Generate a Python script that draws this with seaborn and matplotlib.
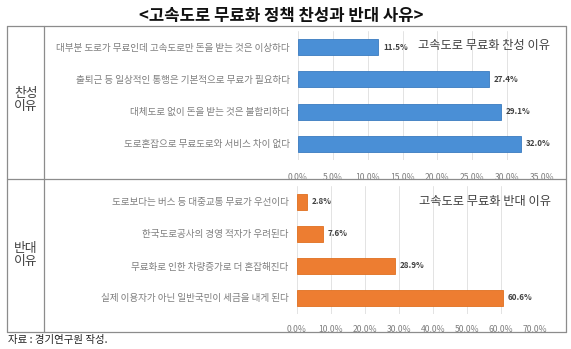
import matplotlib
matplotlib.use("Agg")
import matplotlib.pyplot as plt
import seaborn as sns
import pandas as pd
from matplotlib.lines import Line2D

sns.set_theme(style="white")
plt.rcParams['font.family'] = ['Noto Sans CJK KR', 'DejaVu Sans']

title = "<고속도로 무료화 정책 찬성과 반대 사유>"
source = "자료 : 경기연구원 작성."

pro_title = "고속도로 무료화 찬성 이유"
pro_section = "찬성\n이유"
pro_reasons = [
    "대부분 도로가 무료인데 고속도로만 돈을 받는 것은 이상하다",
    "출퇴근 등 일상적인 통행은 기본적으로 무료가 필요하다",
    "대체도로 없이 돈을 받는 것은 불합리하다",
    "도로혼잡으로 무료도로와 서비스 차이 없다",
]
pro_values = [11.5, 27.4, 29.1, 32.0]
pro_ticks = [0, 5, 10, 15, 20, 25, 30, 35]

con_title = "고속도로 무료화 반대 이유"
con_section = "반대\n이유"
con_reasons = [
    "도로보다는 버스 등 대중교통 무료가 우선이다",
    "한국도로공사의 경영 적자가 우려된다",
    "무료화로 인한 차량증가로 더 혼잡해진다",
    "실제 이용자가 아닌 일반국민이 세금을 내게 된다",
]
con_values = [2.8, 7.6, 28.9, 60.6]
con_ticks = [0, 10, 20, 30, 40, 50, 60, 70]

W, H = 571, 349
fig = plt.figure(figsize=(W / 100, H / 100), dpi=100)


def fx(px):
    return px / W


def fy(py):
    return 1 - py / H


def panel(rect, reasons, values, ticks, color, edge, tick_pad):
    ax = fig.add_axes(rect)
    df = pd.DataFrame({"reason": reasons, "value": values})
    sns.barplot(data=df, y="reason", x="value", orient="h", ax=ax,
                color=color, width=0.5, edgecolor=edge, linewidth=0.6,
                saturation=1)
    ax.set_xlim(ticks[0], ticks[-1])
    ax.set_ylim(len(reasons) - 0.5, -0.5)
    ax.set_xticks(ticks)
    ax.set_xticklabels([f"{t:.1f}%" for t in ticks], fontsize=6.2,
                       color="#7F7F7F")
    ax.tick_params(axis="x", length=0, pad=tick_pad)
    ax.tick_params(axis="y", length=0, pad=6, labelsize=6.9,
                   labelcolor="#7F7F7F")
    ax.set_xlabel("")
    ax.set_ylabel("")
    for s in ax.spines.values():
        s.set_visible(False)
    ax.grid(axis="x", color="#E3E3E3", linewidth=0.7)
    ax.set_axisbelow(True)
    ax.bar_label(ax.containers[0], labels=[f"{v:.1f}%" for v in values],
                 padding=3.5, fontsize=5.8, fontweight="bold",
                 color="#404040")
    return ax


panel([fx(298), fy(160), fx(244), (160 - 31) / H], pro_reasons, pro_values,
      pro_ticks, "#4A8FD6", "#3A7BC0", 9)
panel([fx(297), fy(314), fx(238), (314 - 186) / H], con_reasons, con_values,
      con_ticks, "#ED7D31", "#E07020", 8)

fig.text(fx(550), fy(46), pro_title, ha="right", va="center",
         fontsize=8.8, color="#404040")
fig.text(fx(551), fy(201), con_title, ha="right", va="center",
         fontsize=8.8, color="#404040")

# table frame
lc = "#8C8C8C"
for (x0, y0, x1, y1) in [(7, 26, 566, 26), (7, 332, 566, 332),
                         (7, 26, 7, 332), (566, 26, 566, 332),
                         (44, 26, 44, 332), (7, 179, 566, 179)]:
    fig.add_artist(Line2D([fx(x0), fx(x1)], [fy(y0), fy(y1)], color=lc,
                          linewidth=0.9))

fig.text(fx(26), fy(100), pro_section, ha="center", va="center",
         fontsize=9.2, color="#404040", linespacing=1.0)
fig.text(fx(26), fy(255), con_section, ha="center", va="center",
         fontsize=9.2, color="#404040", linespacing=1.0)

fig.text(fx(281), fy(16), title, ha="center", va="center", fontsize=12,
         fontweight="bold", color="#111111")
fig.text(fx(8), fy(340), source, ha="left", va="center", fontsize=7.5,
         color="#222222")

fig.savefig("out.png", dpi=100)
